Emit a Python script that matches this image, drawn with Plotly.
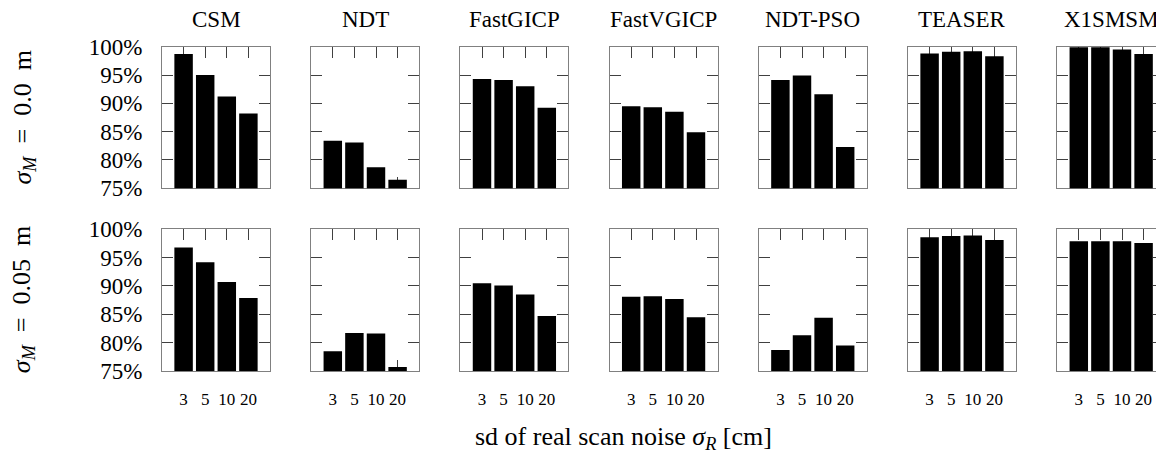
import plotly.graph_objects as go

methods = ["CSM", "NDT", "FastGICP", "FastVGICP", "NDT-PSO", "TEASER", "X1SMSM"]
noise_cm = ["3", "5", "10", "20"]
row_labels = ["<i>σ</i><sub><i>M</i></sub>\u2002=\u20020.0\u2002m",
              "<i>σ</i><sub><i>M</i></sub>\u2002=\u20020.05\u2002m"]
x_title = "sd of real scan noise <i>σ</i><sub><i>R</i></sub> [cm]"

# success rate [%] for sigma_M = 0.0 m
rate_m000 = {
    "CSM":       [98.7, 95.0, 91.2, 88.2],
    "NDT":       [83.4, 83.1, 78.7, 76.5],
    "FastGICP":  [94.3, 94.1, 93.0, 89.2],
    "FastVGICP": [89.5, 89.3, 88.5, 84.9],
    "NDT-PSO":   [94.1, 94.9, 91.6, 82.3],
    "TEASER":    [98.8, 99.1, 99.2, 98.3],
    "X1SMSM":    [99.9, 99.9, 99.5, 98.7],
}
# success rate [%] for sigma_M = 0.05 m
rate_m005 = {
    "CSM":       [96.8, 94.2, 90.7, 87.9],
    "NDT":       [78.5, 81.7, 81.6, 75.7],
    "FastGICP":  [90.5, 90.1, 88.5, 84.7],
    "FastVGICP": [88.1, 88.2, 87.7, 84.5],
    "NDT-PSO":   [78.7, 81.3, 84.4, 79.5],
    "TEASER":    [98.6, 98.8, 98.9, 98.1],
    "X1SMSM":    [97.9, 97.9, 97.9, 97.6],
}
y_ticks = [75, 80, 85, 90, 95, 100]
y_tick_text = [f"{v}%" for v in y_ticks]

# page places the figure 8 px in from the top-left corner (body margin)
OFF = 8
PAGE_W, PAGE_H = 1164, 457
W, H = PAGE_W - OFF, PAGE_H - OFF
FONT = "Liberation Serif, DejaVu Serif, serif"
panel_left0, panel_step, panel_w = 162.0, 149.2, 108.0
unit_px = panel_w / 5.0
rows_px = [(46.7, 188.3), (229.3, 371.0)]


def px(xp):
    return (xp - OFF) / W


def py(yp):
    return 1 - (yp - OFF) / H


fig = go.Figure()
annotations = []
n = 0
for r, data in enumerate([rate_m000, rate_m005]):
    for c, m in enumerate(methods):
        n += 1
        ax = "" if n == 1 else str(n)
        left = panel_left0 + c * panel_step
        right = min(left + panel_w, PAGE_W)
        xr_max = -1 + (right - left) / unit_px
        fig.add_trace(go.Bar(
            x=noise_cm, y=data[m], xaxis="x" + ax, yaxis="y" + ax,
            marker=dict(color="black", line=dict(width=0)),
            showlegend=False, hoverinfo="x+y",
        ))
        top, bot = rows_px[r]
        common = dict(showline=True, linecolor="#808080", linewidth=1, mirror="ticks",
                      ticks="inside", ticklen=11, tickcolor="#404040", tickwidth=1,
                      showgrid=False, zeroline=False, layer="below traces",
                      automargin=False)
        xa = dict(common)
        xa.update(domain=[px(left), min(px(right), 1.0)], anchor="y" + ax, type="category",
                  range=[-1, xr_max], showticklabels=(r == 1),
                  tickmode="array", tickvals=noise_cm, ticktext=noise_cm,
                  tickfont=dict(family=FONT, size=17, color="black"),
                  ticklabelstandoff=13)
        ya = dict(common)
        ya.update(domain=[py(bot), py(top)], anchor="x" + ax, range=[75, 100],
                  tickmode="array", tickvals=y_ticks, ticktext=y_tick_text,
                  showticklabels=(c == 0),
                  tickfont=dict(family=FONT, size=23, color="black"),
                  ticklabelstandoff=14)
        fig.layout["xaxis" + ax] = xa
        fig.layout["yaxis" + ax] = ya
        if r == 0:
            annotations.append(dict(x=px(left + 54), y=py(19), xref="paper", yref="paper",
                                    text=m, showarrow=False, xanchor="center", yanchor="middle",
                                    font=dict(family=FONT, size=23, color="black")))
for r, lab in enumerate(row_labels):
    top, bot = rows_px[r]
    annotations.append(dict(x=px(23), y=py((top + bot) / 2), xref="paper", yref="paper",
                            text=lab, textangle=-90, showarrow=False,
                            xanchor="center", yanchor="middle",
                            font=dict(family=FONT, size=26, color="black")))
annotations.append(dict(x=px(623), y=py(438), xref="paper", yref="paper",
                        text=x_title, showarrow=False, xanchor="center", yanchor="middle",
                        font=dict(family=FONT, size=26, color="black")))

fig.update_layout(template="none", width=W, height=H, margin=dict(l=0, r=0, t=0, b=0, pad=0),
                  paper_bgcolor="white", plot_bgcolor="white", bargap=0.145,
                  annotations=annotations, font=dict(family=FONT, color="black"))
fig.write_html("out.html")
